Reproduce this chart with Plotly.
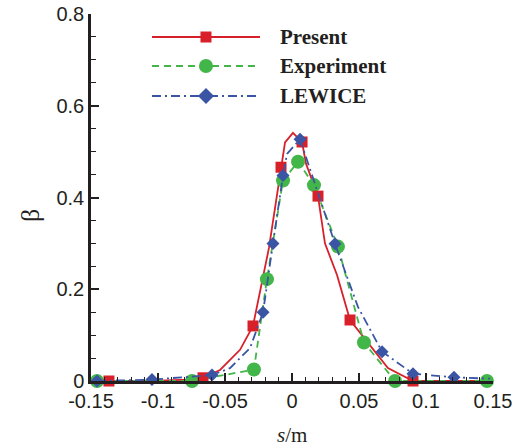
import plotly.graph_objects as go

# ---------------- data ----------------
present_line_s = [-0.15, -0.1366, -0.1045, -0.0776, -0.0664, -0.059, -0.0537, -0.0388, -0.0291,
                  -0.0172, -0.0082, -0.0052, 0.0007, 0.0075, 0.0104, 0.0194, 0.0246, 0.0336,
                  0.0433, 0.0716, 0.0903, 0.15]
present_line_b = [0.0, 0.0, 0.0, 0.003, 0.007, 0.017, 0.024, 0.068, 0.12,
                  0.29, 0.466, 0.52, 0.541, 0.521, 0.474, 0.403, 0.30, 0.231,
                  0.133, 0.028, 0.0, 0.0]
present_mark_s = [-0.1366, -0.0664, -0.0291, -0.0082, 0.0075, 0.0194, 0.0433, 0.0903]
present_mark_b = [0.0, 0.007, 0.12, 0.466, 0.521, 0.403, 0.133, 0.0]

exp_s = [-0.1455, -0.0746, -0.0284, -0.0187, -0.0067, 0.0045, 0.0164, 0.0343, 0.0537, 0.0769, 0.1455]
exp_b = [0.0, 0.0, 0.025, 0.222, 0.437, 0.478, 0.427, 0.293, 0.084, 0.0, 0.0]

lew_line_s = [-0.1455, -0.1045, -0.0597, -0.0463, -0.0313, -0.0216, -0.0142, -0.0067, -0.0037,
              0.006, 0.0321, 0.0493, 0.0672, 0.0903, 0.1209, 0.1478]
lew_line_b = [0.0, 0.003, 0.013, 0.028, 0.072, 0.15, 0.30, 0.448, 0.495,
              0.527, 0.299, 0.161, 0.064, 0.016, 0.008, 0.005]
lew_mark_s = [-0.1455, -0.1045, -0.0597, -0.0216, -0.0142, -0.0067, 0.006, 0.0321, 0.0672, 0.0903, 0.1209]
lew_mark_b = [0.0, 0.003, 0.013, 0.15, 0.30, 0.448, 0.527, 0.299, 0.064, 0.016, 0.008]

x_tickvals = [-0.15, -0.1, -0.05, 0, 0.05, 0.1, 0.15]
x_ticktext = ["-0.15", "-0.1", "-0.05", "0", "0.05", "0.1", "0.15"]
y_tickvals = [0, 0.2, 0.4, 0.6, 0.8]
y_ticktext = ["0", "0.2", "0.4", "0.6", "0.8"]

series_names = ["Present", "Experiment", "LEWICE"]

# ---------------- style ----------------
RED = "#d7202a"
GREEN = "#43b649"
BLUE = "#3b55a5"
AX = "#231f20"
GREEN_DASH = "7px,5px"
BLUE_DASH = "9px,4px,2px,4px"

fig = go.Figure()
fig.add_trace(go.Scatter(x=present_line_s, y=present_line_b, mode="lines",
                         line=dict(color=RED, width=1.8), showlegend=False, cliponaxis=False))
fig.add_trace(go.Scatter(x=exp_s, y=exp_b, mode="lines+markers",
                         line=dict(color=GREEN, width=1.8, dash=GREEN_DASH),
                         marker=dict(symbol="circle", size=14, color=GREEN),
                         showlegend=False, cliponaxis=False))
fig.add_trace(go.Scatter(x=present_mark_s, y=present_mark_b, mode="markers",
                         marker=dict(symbol="square", size=11, color=RED),
                         showlegend=False, cliponaxis=False))
fig.add_trace(go.Scatter(x=lew_line_s, y=lew_line_b, mode="lines",
                         line=dict(color=BLUE, width=1.8, dash=BLUE_DASH),
                         showlegend=False, cliponaxis=False))
fig.add_trace(go.Scatter(x=lew_mark_s, y=lew_mark_b, mode="markers",
                         marker=dict(symbol="diamond", size=10, color=BLUE),
                         showlegend=False, cliponaxis=False))

# ---------------- custom legend (layout only) ----------------
leg_x0, leg_x1, leg_xm, leg_tx = 0.1517, 0.4204, 0.286, 0.465
leg_rows = [0.9373, 0.8583, 0.7766]
leg_colors = [RED, GREEN, BLUE]
leg_dash = ["solid", GREEN_DASH, BLUE_DASH]
shapes = []
annotations = []
for name, yrow, col, dsh in zip(series_names, leg_rows, leg_colors, leg_dash):
    shapes.append(dict(type="line", xref="paper", yref="paper", x0=leg_x0, x1=leg_x1,
                       y0=yrow, y1=yrow, line=dict(color=col, width=1.8, dash=dsh)))
    annotations.append(dict(text=f"<b>{name}</b>", xref="paper", yref="paper", x=leg_tx, y=yrow,
                            xanchor="left", yanchor="middle", showarrow=False,
                            font=dict(family="Liberation Serif", size=21, color=AX)))
common = dict(xref="paper", yref="paper", xsizemode="pixel", ysizemode="pixel", xanchor=leg_xm)
shapes.append(dict(type="rect", yanchor=leg_rows[0], x0=-5.5, x1=5.5, y0=-5.5, y1=5.5,
                   fillcolor=RED, line=dict(width=0), **common))
shapes.append(dict(type="circle", yanchor=leg_rows[1], x0=-7, x1=7, y0=-7, y1=7,
                   fillcolor=GREEN, line=dict(width=0), **common))
shapes.append(dict(type="path", yanchor=leg_rows[2], path="M 0,8 L 8,0 L 0,-8 L -8,0 Z",
                   fillcolor=BLUE, line=dict(width=0), **common))

annotations.append(dict(text="β", xref="paper", yref="paper", x=-0.152, y=0.452,
                        textangle=-90, showarrow=False, xanchor="center", yanchor="middle",
                        font=dict(family="Liberation Serif", size=26, color=AX)))
annotations.append(dict(text="<i>s</i>/m", xref="paper", yref="paper", x=0.5, y=-0.147,
                        showarrow=False, xanchor="center", yanchor="middle",
                        font=dict(family="Liberation Serif", size=21, color=AX)))

tickfont = dict(family="Liberation Sans", size=20, color=AX)
fig.update_layout(
    width=515, height=448,
    margin=dict(l=91, r=22, t=14, b=67),
    paper_bgcolor="white", plot_bgcolor="white",
    showlegend=False,
    shapes=shapes, annotations=annotations,
    xaxis=dict(range=[-0.15, 0.15], tickmode="array", tickvals=x_tickvals, ticktext=x_ticktext,
               ticks="inside", ticklen=8, tickwidth=1.5, tickcolor=AX, automargin=False,
               showline=True, linecolor=AX, linewidth=2.5, showgrid=False, zeroline=False,
               tickfont=tickfont,
               minor=dict(tickmode="linear", tick0=0, dtick=0.01, ticks="inside", ticklen=4,
                          tickwidth=1.2, tickcolor=AX, showgrid=False)),
    yaxis=dict(range=[0, 0.8], tickmode="array", tickvals=y_tickvals, ticktext=y_ticktext,
               ticks="inside", ticklen=8, tickwidth=1.5, tickcolor=AX, automargin=False,
               showline=True, linecolor=AX, linewidth=2.5, showgrid=False, zeroline=False,
               tickfont=tickfont,
               minor=dict(tickmode="linear", tick0=0, dtick=0.05, ticks="inside", ticklen=5,
                          tickwidth=1.2, tickcolor=AX, showgrid=False)),
)

fig.write_html("out.html")
